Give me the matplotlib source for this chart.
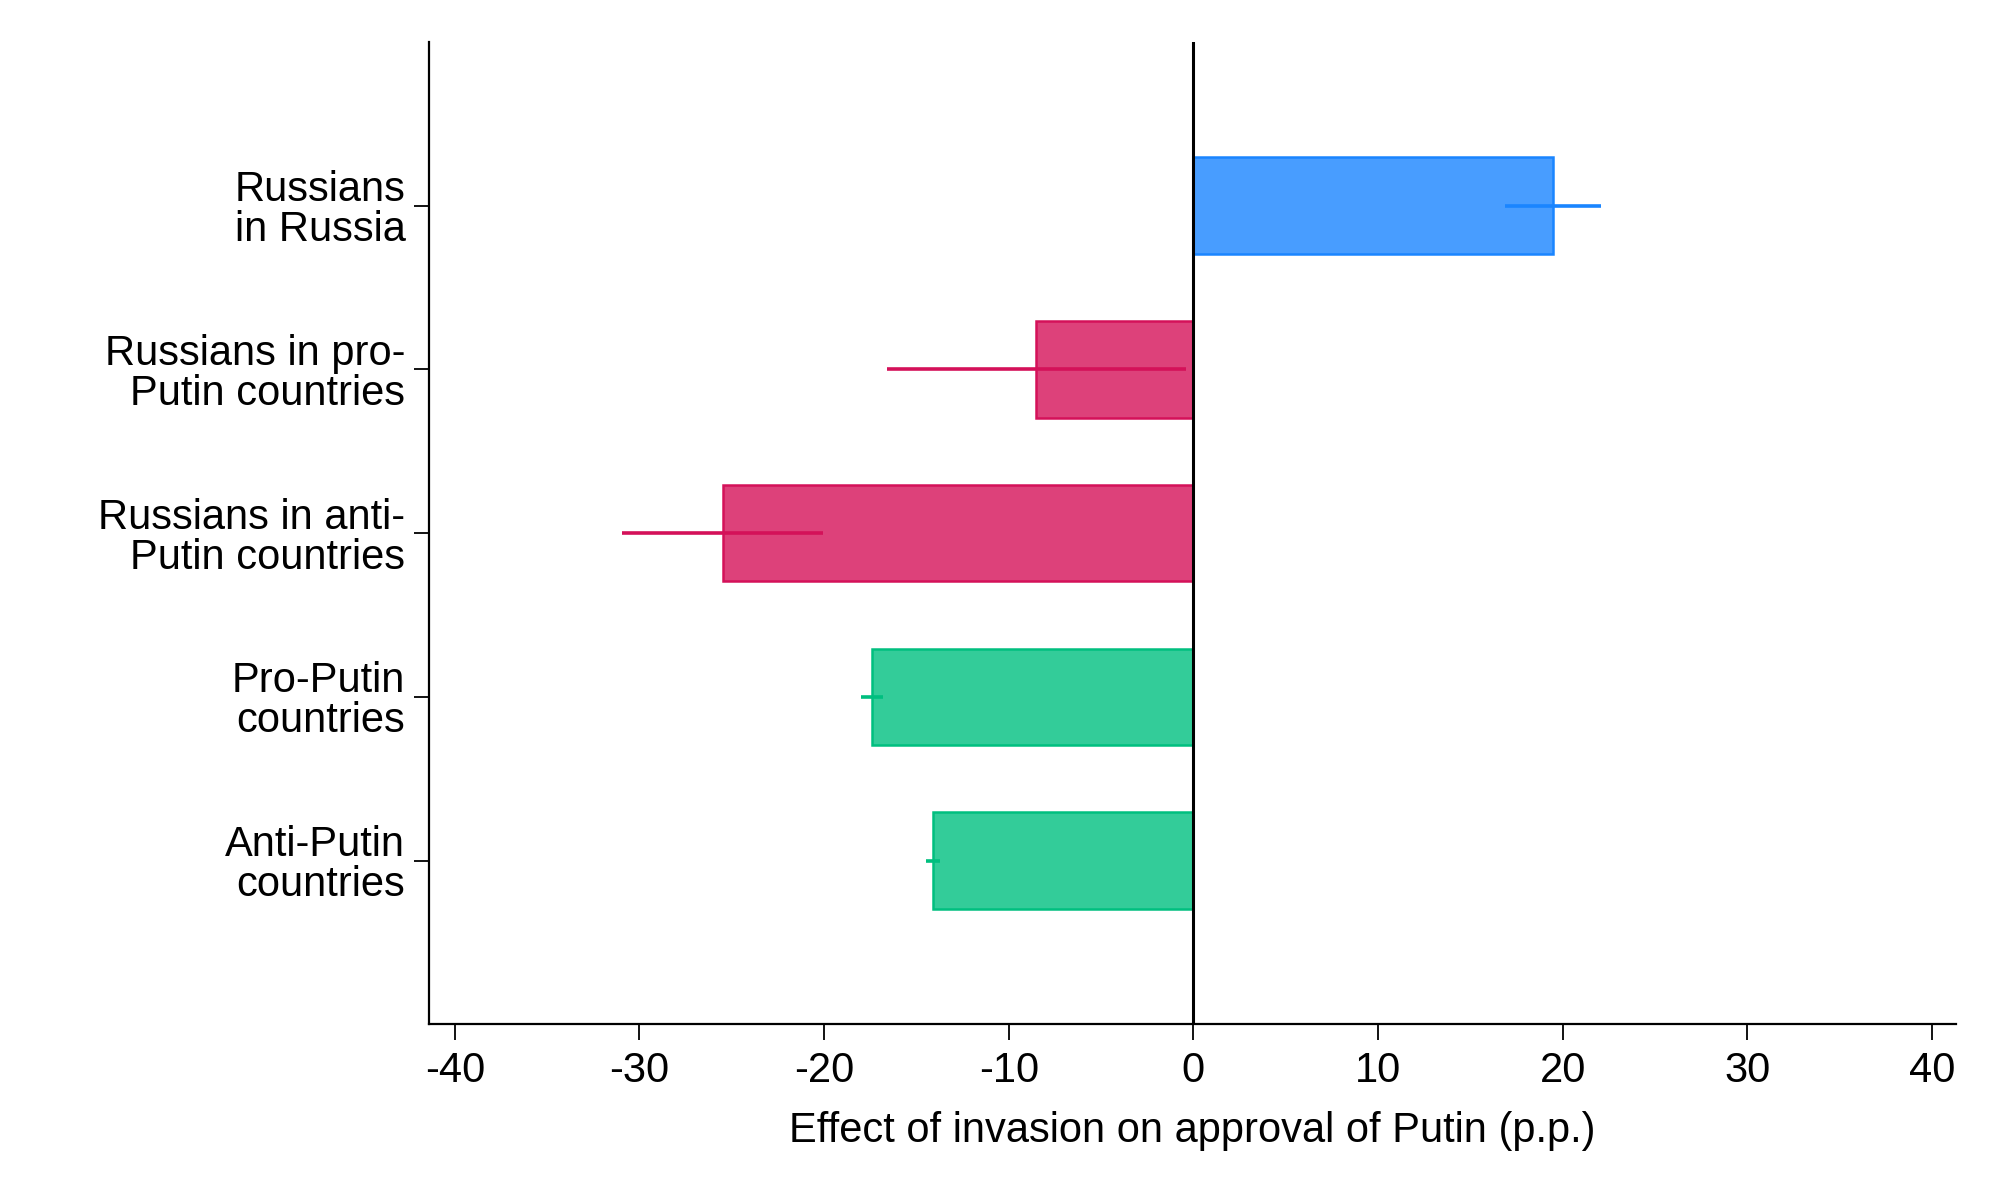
import numpy as np
import matplotlib.pyplot as plt

# Effect estimates (p.p.) and half-widths of the confidence intervals
groups = [
    "Russians\nin Russia",
    "Russians in pro-\nPutin countries",
    "Russians in anti-\nPutin countries",
    "Pro-Putin\ncountries",
    "Anti-Putin\ncountries",
]
effects = [19.5, -8.5, -25.5, -17.4, -14.1]
ci_half = [2.6, 8.1, 5.45, 0.6, 0.4]
edge_colors = ["#1A85FF", "#D41159", "#D41159", "#00BF7F", "#00BF7F"]
x_ticks = [-40, -30, -20, -10, 0, 10, 20, 30, 40]

plt.rcParams["font.family"] = ["Liberation Sans", "DejaVu Sans"]

fig = plt.figure(figsize=(20, 12), dpi=100)
ax = fig.add_axes([0.2145, 0.1465, 0.7635, 0.8185])

pos = np.arange(1, len(groups) + 1)
for p, eff, ci, col in zip(pos, effects, ci_half, edge_colors):
    # fill is the line colour at 80% intensity
    rgb = np.array(plt.matplotlib.colors.to_rgb(col))
    fill = 0.8 * rgb + 0.2
    ax.barh(p, eff, height=0.59, color=fill, edgecolor=col, linewidth=1.8, zorder=2)
    ax.plot([eff - ci, eff + ci], [p, p], color=col, linewidth=2.6,
            solid_capstyle="butt", zorder=3)

ax.axvline(0, color="black", linewidth=2.2, zorder=4)

ax.set_xlim(-41.4, 41.3)
ax.set_ylim(6, 0)
ax.set_yticks(pos)
ax.set_yticklabels(groups, fontsize=30, linespacing=1.0, ha="right")
ax.set_xticks(x_ticks)
ax.set_xticklabels([str(t) for t in x_ticks], fontsize=30)
ax.set_xlabel("Effect of invasion on approval of Putin (p.p.)", fontsize=30, labelpad=14)

ax.spines["top"].set_visible(False)
ax.spines["right"].set_visible(False)
for s in ("left", "bottom"):
    ax.spines[s].set_linewidth(1.6)
ax.tick_params(axis="y", length=11, width=1.3, pad=6)
ax.tick_params(axis="x", length=11.5, width=1.3, pad=8)

fig.savefig("out.png", dpi=100)
plt.close(fig)
